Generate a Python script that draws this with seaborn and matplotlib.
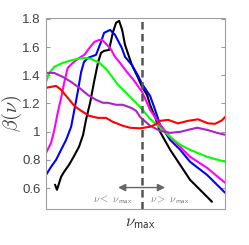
import numpy as np
import pandas as pd
import matplotlib
matplotlib.use("Agg")
import matplotlib.pyplot as plt
import seaborn as sns

# ---- data (nu normalised 0..1, beta values) ----
black_x = [0.050, 0.061, 0.084, 0.101, 0.128, 0.151, 0.184, 0.207, 0.223, 0.246, 0.268, 0.291,
           0.307, 0.324, 0.352, 0.374, 0.391, 0.408, 0.425, 0.441, 0.479, 0.514, 0.536, 0.564,
           0.581, 0.609, 0.637, 0.693, 0.749, 0.804, 0.860, 0.927]
black_y = [0.624, 0.588, 0.680, 0.716, 0.765, 0.815, 0.893, 0.978, 1.084, 1.205, 1.353, 1.495,
           1.559, 1.573, 1.580, 1.708, 1.772, 1.786, 1.722, 1.616, 1.474, 1.382, 1.318, 1.261,
           1.190, 1.105, 0.999, 0.872, 0.765, 0.659, 0.588, 0.503]

blue_x = [0.000, 0.028, 0.056, 0.084, 0.112, 0.140, 0.156, 0.177, 0.196, 0.212, 0.235, 0.279,
          0.307, 0.324, 0.358, 0.385, 0.423, 0.441, 0.479, 0.514, 0.536, 0.581, 0.609, 0.637,
          0.693, 0.749, 0.804, 0.899, 1.000]
blue_y = [0.694, 0.751, 0.801, 0.872, 0.942, 1.035, 1.141, 1.283, 1.424, 1.495, 1.524, 1.545,
          1.637, 1.701, 1.722, 1.687, 1.594, 1.531, 1.474, 1.396, 1.339, 1.254, 1.155, 1.049,
          0.942, 0.872, 0.787, 0.694, 0.567]

magenta_x = [0.000, 0.028, 0.046, 0.065, 0.084, 0.102, 0.121, 0.149, 0.186, 0.214, 0.242, 0.270,
             0.298, 0.313, 0.335, 0.358, 0.385, 0.413, 0.451, 0.488, 0.536, 0.581, 0.637, 0.693,
             0.749, 0.804, 0.899, 1.000]
magenta_y = [0.850, 0.921, 1.013, 1.134, 1.240, 1.353, 1.453, 1.488, 1.524, 1.545, 1.594, 1.637,
             1.651, 1.651, 1.623, 1.594, 1.531, 1.488, 1.424, 1.368, 1.283, 1.155, 1.049, 0.964,
             0.893, 0.822, 0.744, 0.638]

green_x = [0.000, 0.018, 0.046, 0.093, 0.149, 0.205, 0.251, 0.298, 0.335, 0.369, 0.397, 0.436,
           0.486, 0.525, 0.581, 0.637, 0.693, 0.749, 0.804, 0.899, 1.000]
green_y = [1.353, 1.417, 1.460, 1.488, 1.509, 1.524, 1.517, 1.488, 1.446, 1.389, 1.339, 1.290,
           1.226, 1.176, 1.091, 1.028, 0.964, 0.907, 0.872, 0.822, 0.787]

purple_x = [0.000, 0.045, 0.093, 0.140, 0.186, 0.233, 0.279, 0.317, 0.345, 0.391, 0.428, 0.475,
            0.503, 0.525, 0.581, 0.637, 0.693, 0.749, 0.793, 0.844, 0.899, 0.955, 1.000]
purple_y = [1.417, 1.417, 1.389, 1.353, 1.311, 1.261, 1.226, 1.205, 1.205, 1.191, 1.191, 1.169,
            1.148, 1.105, 1.042, 1.006, 0.992, 0.999, 1.013, 1.028, 1.013, 0.992, 0.978]

red_x = [0.000, 0.028, 0.056, 0.084, 0.121, 0.158, 0.196, 0.240, 0.289, 0.335, 0.373, 0.429,
         0.469, 0.525, 0.581, 0.609, 0.637, 0.682, 0.737, 0.793, 0.849, 0.905, 0.944, 0.983, 1.000]
red_y = [1.311, 1.318, 1.325, 1.297, 1.240, 1.183, 1.148, 1.113, 1.098, 1.098, 1.070, 1.042,
         1.028, 1.024, 1.035, 1.050, 1.077, 1.084, 1.059, 1.077, 1.088, 1.059, 1.056, 1.081, 1.105]

series_names = ["black", "blue", "magenta", "green", "purple", "red"]
series_colors = ["#000000", "#0000ff", "#ff00ff", "#00ff00", "#b020c8", "#ff0000"]
series_x = [black_x, blue_x, magenta_x, green_x, purple_x, red_x]
series_y = [black_y, blue_y, magenta_y, green_y, purple_y, red_y]

yticks = [0.6, 0.8, 1.0, 1.2, 1.4, 1.6, 1.8]
ytick_labels = ["0.6", "0.8", "1", "1.2", "1.4", "1.6", "1.8"]
nu_max = 0.536

frames = [pd.DataFrame({"nu": x, "beta": y, "series": n})
          for n, x, y in zip(series_names, series_x, series_y)]
df = pd.concat(frames, ignore_index=True)

sns.set_style("white")
plt.rcParams["font.family"] = ["Liberation Sans", "DejaVu Sans"]
plt.rcParams["mathtext.fontset"] = "cm"

fig = plt.figure(figsize=(2.49, 2.45), dpi=100)
ax = fig.add_axes([0.185, 0.147, 0.719, 0.78])

sns.lineplot(data=df, x="nu", y="beta", hue="series", hue_order=series_names,
             palette=dict(zip(series_names, series_colors)), estimator=None, sort=False,
             legend=False, linewidth=1.5, ax=ax)

ax.axvline(nu_max, color="#555555", lw=1.8, linestyle=(0, (3, 1.8)), zorder=5)

ax.set_xlim(0, 1)
ax.set_ylim(0.452, 1.807)
ax.set_xticks([])
ax.set_yticks(yticks)
ax.set_yticklabels(ytick_labels)
ax.tick_params(axis="y", direction="in", length=3, color="#999999", labelsize=9.5,
               labelcolor="#404040", left=True, right=True, pad=4)
for s in ax.spines.values():
    s.set_color("#a0a0a0")
    s.set_linewidth(0.8)

ax.set_ylabel(r"$\beta(\nu)$", fontsize=14.5, color="#404040")
ax.yaxis.set_label_coords(-0.125, 0.5)
ax.set_xlabel(r"$\nu_{\mathsf{max}}$", fontsize=12, color="#333333")
ax.xaxis.set_label_coords(0.528, -0.035)

ax.annotate("", xy=(0.402, 0.604), xytext=(0.665, 0.604),
            arrowprops=dict(arrowstyle="<|-|>", color="#666666", lw=1.0,
                            mutation_scale=11, shrinkA=0, shrinkB=0))
ax.text(0.372, 0.515, r"$\nu <\ \nu_{\mathsf{max}}$", ha="center", va="center",
        fontsize=7.5, color="#777777")
ax.text(0.693, 0.515, r"$\nu >\ \nu_{\mathsf{max}}$", ha="center", va="center",
        fontsize=7.5, color="#777777")

fig.savefig("out.png", dpi=100)
